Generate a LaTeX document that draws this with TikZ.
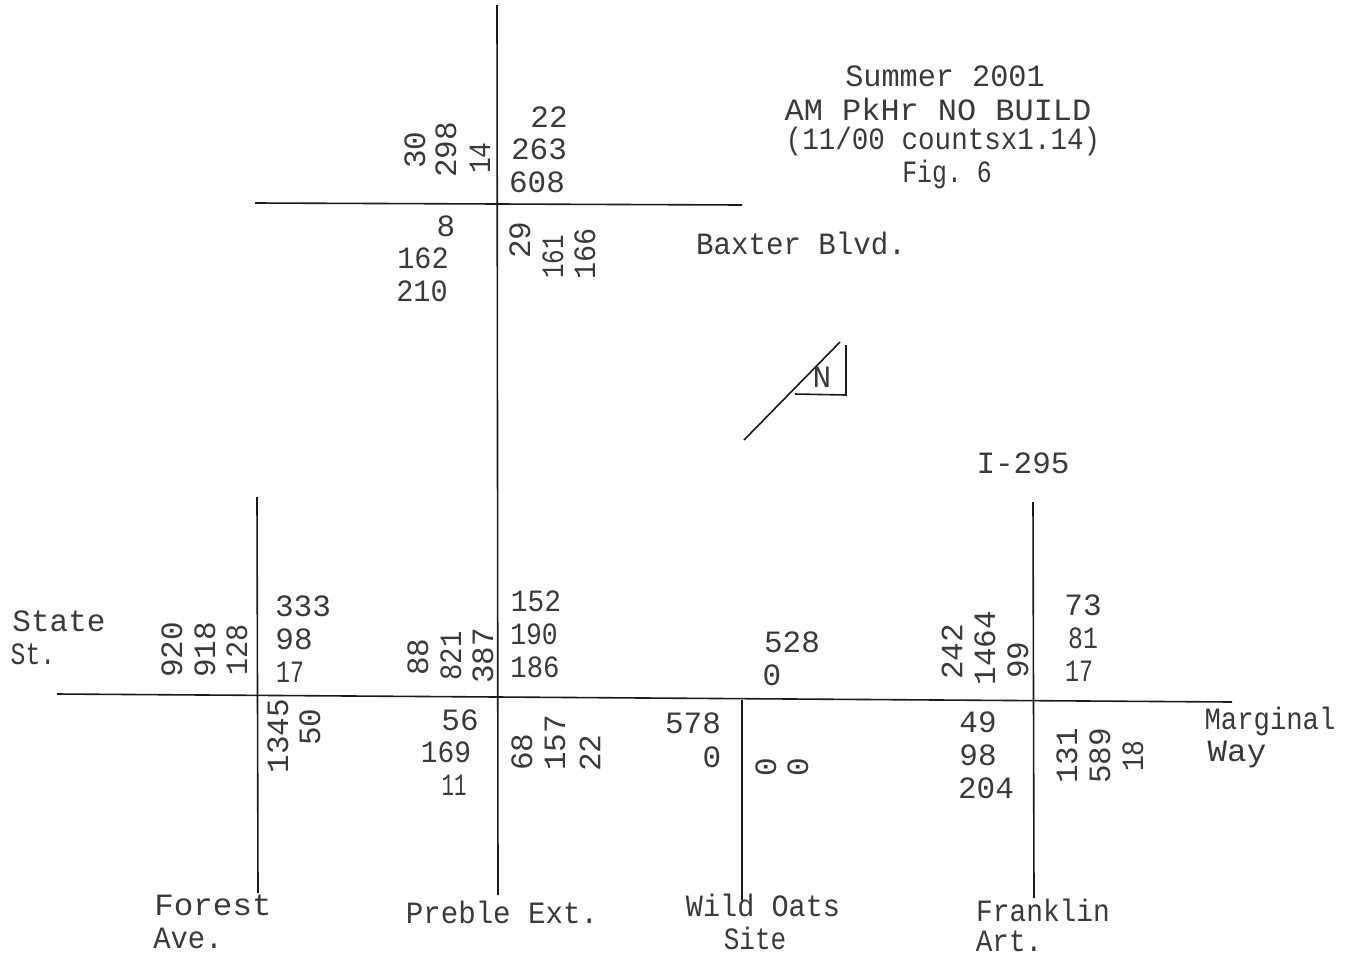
\documentclass[tikz,border=0pt]{standalone}
\usepackage{fontspec}
\usepackage{graphicx}
\setmonofont{Liberation Mono}
\usetikzlibrary{positioning}
\definecolor{plotink}{HTML}{3A3A3A}
\definecolor{plotline}{HTML}{1A1A1A}
\newcommand{\sqz}[2]{\scalebox{#1}[1]{#2}}

\begin{document}
\begin{tikzpicture}[
    x=1pt, y=-1pt,
    every node/.style={font=\ttfamily\fontsize{31}{31}\selectfont, text=plotink, inner sep=0pt},
    road/.style={draw=plotline, line width=1.6pt},
    upcount/.style={rotate=90},
]

% Background
\fill[white] (0,0) rectangle (1357,959);

% Title
\node (title1) at (945,76) {\sqz{0.975}{Summer 2001}};
\node (title2) at (938,109) {\sqz{1.03}{AM PkHr NO BUILD}};
\node (title3) at (943,141) {\sqz{0.89}{(11/00 countsx1.14)}};
\node (title4) at (947,174) {\sqz{0.8}{Fig. 6}};

% --- Road ends ---
\coordinate (prebleN) at (497,5);
\coordinate (prebleS) at (498,895);
\coordinate (baxterW) at (255,203);
\coordinate (baxterE) at (742,205);
\coordinate (forestN) at (257,497);
\coordinate (forestS) at (258,893);
\coordinate (stateW) at (57,694);
\coordinate (marginalE) at (1232,702);
\coordinate (oatsN) at (742,700);
\coordinate (oatsS) at (742,900);
\coordinate (frankN) at (1033,502);
\coordinate (frankS) at (1034,898);

% --- Roads ---
\draw[road] (prebleN) -- (prebleS);
\draw[road] (baxterW) -- (baxterE);
\draw[road] (forestN) -- (forestS);
\draw[road] (stateW) -- (marginalE);
\draw[road] (oatsN) -- (oatsS);
\draw[road] (frankN) -- (frankS);

% --- North arrow ---
\coordinate (northA) at (744,440);
\coordinate (northB) at (840,342);
\coordinate (northC) at (795,394);
\coordinate (northD) at (846,395);
\coordinate (northE) at (846,345);
\draw[road] (northA) -- (northB);
\draw[road] (northC) -- (northD) -- (northE);
\node (north) at (822,377) {N};

% --- Baxter / Preble ---
\node (bx22) at (549,117) {22};
\node (bx263) at (539,149) {263};
\node (bx608) at (537,182) {608};
\node[upcount] (bx30) at (415,150) {30};
\node[upcount] (bx298) at (446,150) {298};
\node[upcount] (bx14) at (480,158) {\sqz{0.85}{14}};
\node (bx8) at (446,226) {8};
\node (bx162) at (423,258) {\sqz{0.92}{162}};
\node (bx210) at (422,291) {\sqz{0.92}{210}};
\node[upcount] (bx29) at (520,240) {29};
\node[upcount] (bx161) at (553,257) {\sqz{0.78}{161}};
\node[upcount] (bx166) at (585,254) {\sqz{0.92}{166}};
\node (baxter) at (801,243) {\sqz{0.94}{Baxter Blvd.}};

% --- State / Forest ---
\node (state) at (59,621) {State};
\node (st) at (33,654) {\sqz{0.8}{St.}};
\node[upcount] (fo920) at (172,650) {920};
\node[upcount] (fo918) at (205,650) {918};
\node[upcount] (fo128) at (237,650) {\sqz{0.92}{128}};
\node (fo333) at (303,606) {333};
\node (fo98) at (294,639) {98};
\node (fo17) at (290,672) {\sqz{0.75}{17}};
\node[upcount] (fo1345) at (278,736) {1345};
\node[upcount] (fo50) at (310,727) {50};

% --- State / Preble ---
\node[upcount] (pr88) at (418,657) {88};
\node[upcount] (pr821) at (451,656) {\sqz{0.88}{821}};
\node[upcount] (pr387) at (483,656) {387};
\node (pr152) at (536,601) {\sqz{0.9}{152}};
\node (pr190) at (534,634) {\sqz{0.85}{190}};
\node (pr186) at (535,667) {\sqz{0.88}{186}};
\node (pr56) at (460,720) {56};
\node (pr169) at (446,752) {\sqz{0.9}{169}};
\node (pr11) at (454,785) {\sqz{0.67}{11}};
\node[upcount] (pr68) at (522,752) {68};
\node[upcount] (pr157) at (555,743) {157};
\node[upcount] (pr22) at (590,753) {22};

% --- Site drive ---
\node (oa528) at (792,642) {528};
\node (oa0a) at (772,675) {0};
\node (oa578) at (693,723) {578};
\node (oa0b) at (712,757) {0};
\node[upcount] (oa0c) at (766,767) {0};
\node[upcount] (oa0d) at (798,767) {0};

% --- I-295 / Franklin ---
\node (i295) at (1023,463) {I-295};
\node[upcount] (fr242) at (952,652) {242};
\node[upcount] (fr1464) at (985,648) {1464};
\node[upcount] (fr99) at (1018,660) {99};
\node (fr73) at (1083,605) {73};
\node (fr81) at (1083,638) {\sqz{0.8}{81}};
\node (fr17) at (1079,671) {\sqz{0.75}{17}};
\node (fr49) at (978,722) {49};
\node (fr98) at (978,755) {98};
\node (fr204) at (986,788) {204};
\node[upcount] (fr131) at (1067,756) {131};
\node[upcount] (fr589) at (1100,756) {589};
\node[upcount] (fr18) at (1133,756) {\sqz{0.85}{18}};
\node (marginal) at (1270,721) {\sqz{0.88}{Marginal}};
\node (way) at (1237,754) {\sqz{1.05}{Way}};

% --- Street names ---
\node (forest) at (213,905) {\sqz{1.05}{Forest}};
\node (ave) at (188,938) {\sqz{0.93}{Ave.}};
\node (preble) at (502,912) {\sqz{0.94}{Preble Ext.}};
\node (wild) at (763,905) {\sqz{0.92}{Wild Oats}};
\node (site) at (755,938) {\sqz{0.84}{Site}};
\node (franklin) at (1043,910) {\sqz{0.9}{Franklin}};
\node (art) at (1009,941) {\sqz{0.89}{Art.}};

\end{tikzpicture}
\end{document}
